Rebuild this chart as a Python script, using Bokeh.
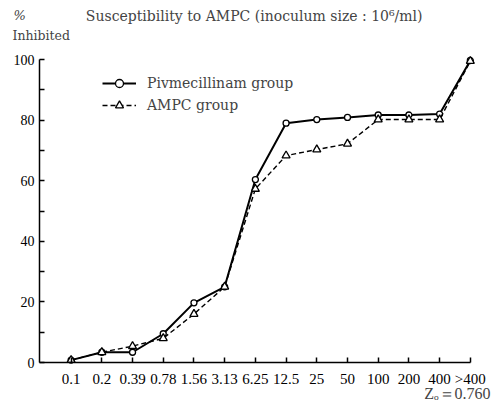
from bokeh.plotting import figure
from bokeh.models import Range1d, FixedTicker, Label, Legend, LegendItem, ColumnDataSource
from bokeh.embed import file_html
from bokeh.resources import INLINE

categories = ["0.1", "0.2", "0.39", "0.78", "1.56", "3.13", "6.25", "12.5", "25", "50", "100", "200", "400", ">400"]
pivmecillinam = [0.8, 3.4, 3.4, 9.5, 19.7, 25.0, 60.4, 79.0, 80.2, 80.9, 81.7, 81.7, 82.0, 99.7]
ampc = [0.8, 3.4, 5.4, 8.0, 16.0, 25.0, 57.3, 68.3, 70.3, 72.2, 80.2, 80.2, 80.2, 99.5]
y_ticks = [0, 20, 40, 60, 80, 100]
y_minor = [10, 30, 50, 70, 90]

FONT = "DejaVu Serif"
TICK_FONT = "Liberation Serif"

xs = list(range(len(categories)))
src = ColumnDataSource(dict(x=xs, piv=pivmecillinam, ampc=ampc))

X0 = -1.03  # position of the y axis (one step left of first category)

p = figure(width=499, height=409, output_backend="svg", toolbar_location=None,
           x_range=Range1d(-2.30, 13.95), y_range=Range1d(-15.5, 119.5),
           min_border=0, min_border_left=0, min_border_right=0,
           min_border_top=0, min_border_bottom=0)
p.outline_line_color = None
p.grid.visible = False
p.background_fill_color = "white"
p.border_fill_color = "white"

# axes (drawn inside the frame at fixed data locations)
xa = p.xaxis[0]
ya = p.yaxis[0]
xa.fixed_location = 0
ya.fixed_location = X0
xa.bounds = (X0, 13)
ya.bounds = (0, 100)
xa.ticker = FixedTicker(ticks=xs)
xa.major_label_overrides = {i: c for i, c in enumerate(categories)}
ya.ticker = FixedTicker(ticks=y_ticks, minor_ticks=y_minor)
for ax in (xa, ya):
    ax.axis_line_color = "black"
    ax.axis_line_width = 1.5
    ax.major_tick_in = 5
    ax.major_tick_out = 0
    ax.major_tick_line_width = 1.5
    ax.major_label_text_font = TICK_FONT
    ax.major_label_text_color = "black"
xa.major_label_text_font_size = "15px"
ya.major_label_text_font_size = "14px"
xa.minor_tick_line_color = None
ya.minor_tick_in = 5
ya.minor_tick_out = 0
ya.minor_tick_line_width = 1.5
ya.major_label_standoff = 5
xa.major_label_standoff = 8

# series
r1 = p.line("x", "piv", source=src, line_color="black", line_width=2)
r1m = p.scatter("x", "piv", source=src, marker="circle", size=6, line_color="black",
                fill_color="white", line_width=1.3)
r2 = p.line("x", "ampc", source=src, line_color="black", line_width=1.4, line_dash="5 3")
r2m = p.scatter("x", "ampc", source=src, marker="triangle", size=8, line_color="black",
                fill_color="white", line_width=1.3)

legend = Legend(items=[LegendItem(label="Pivmecillinam group", renderers=[r1, r1m]),
                       LegendItem(label="AMPC group", renderers=[r2, r2m])],
                location=(102, 294), padding=0, margin=0, spacing=2,
                glyph_width=34, glyph_height=20, label_height=20, label_standoff=11,
                border_line_color=None, background_fill_alpha=0,
                label_text_font=FONT, label_text_font_size="14px")
p.add_layout(legend)

# texts
p.add_layout(Label(x=-1.88, y=114.5, text="%", text_font=FONT, text_font_size="13px",
                   text_baseline="middle", text_font_style="italic"))
p.add_layout(Label(x=-1.91, y=107.9, text="Inhibited", text_font=FONT, text_font_size="12.5px",
                   text_baseline="middle"))
p.add_layout(Label(x=0.48, y=114.5, text="Susceptibility to AMPC (inoculum size : 10\u2076/ml)",
                   text_font=FONT, text_font_size="14px", text_baseline="middle"))
p.add_layout(Label(x=13.66, y=-10.2, text="Z\u2092\uff1d0.760", text_font=TICK_FONT, text_font_size="16px",
                   text_baseline="middle", text_align="right"))

open("out.html", "w").write(file_html(p, INLINE))
